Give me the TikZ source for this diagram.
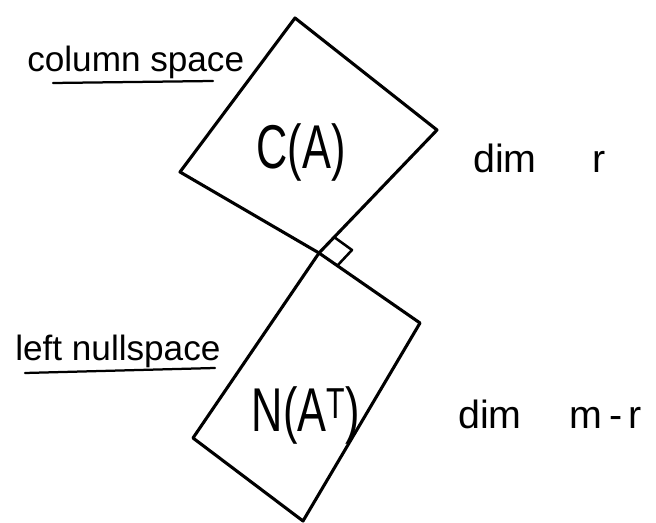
\documentclass[tikz,border=0pt]{standalone}
\usepackage{fontspec}
\setmainfont{Liberation Sans}
\tikzset{
  pen/.style     ={line width=2.2pt,line join=round,line cap=round,draw=black},
  uline/.style   ={line width=1.6pt,line cap=round},
  spacelbl/.style={anchor=base west,inner sep=0pt,font=\fontsize{25}{25}\selectfont},
  dimlbl/.style  ={anchor=base west,inner sep=0pt,font=\fontsize{28}{28}\selectfont},
  sublbl/.style  ={inner sep=0pt,font=\fontsize{44}{44}\selectfont},
}

\begin{document}
\begin{tikzpicture}[x=0.025cm,y=-0.025cm]
  \useasboundingbox (0,0) rectangle (656,523);
  \coordinate (o)  at (319,253);
  \coordinate (ct) at (295,18);
  \coordinate (cr) at (437,130);
  \coordinate (cl) at (180,172);
  \coordinate (nr) at (420,323);
  \coordinate (nb) at (303,521);
  \coordinate (nl) at (193,438);
  \draw[pen] (ct) -- (cr) -- (o) -- (cl) -- cycle;
  \draw[pen] (o) -- (nr) -- (nb) -- (nl) -- cycle;
  \draw[pen,line width=1.8pt] (o) ++(15,-16) -- ++(18,13) -- ++(-15,16);
  \node[sublbl] (ca)  at (301,152) {\scalebox{0.7}[1]{C(A)}};
  \node[sublbl] (nat) at (306,415) {\scalebox{0.7}[1]{N(A\textsuperscript{T})}};
  \node[spacelbl] (colsp) at (27,72)  {column space};
  \node[spacelbl] (lnull) at (15,361) {left nullspace};
  \draw[uline] (53,83) -- (213,81);
  \draw[uline] (25,373) -- (215,368);
  \node[dimlbl] (dimr)  at (473,173) {dim\hspace{1.4cm}r};
  \node[dimlbl] (dimmr) at (458,428) {dim\hspace{1.2cm}m\,-\,r};
\end{tikzpicture}
\end{document}
